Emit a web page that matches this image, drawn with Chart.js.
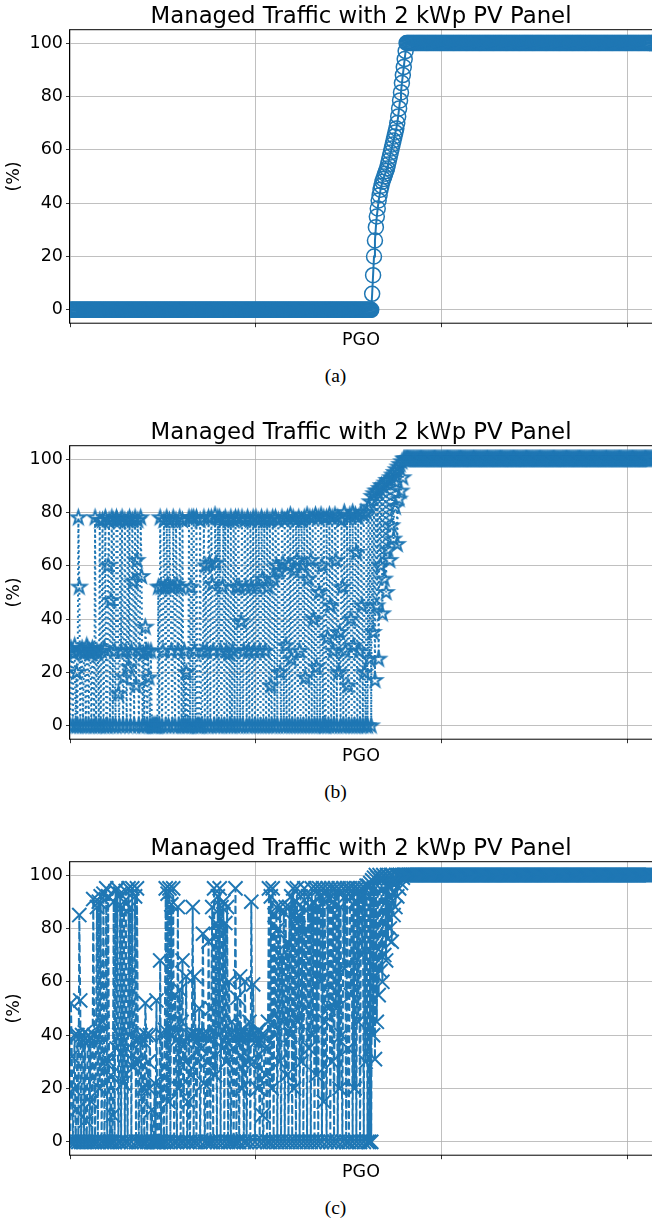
<!DOCTYPE html>
<html>
<head>
<meta charset="utf-8">
<script src="https://cdn.jsdelivr.net/npm/chart.js@4.4.1/dist/chart.umd.min.js"></script>
<style>
  html, body { margin: 0; padding: 0; background: #fff; }
  #page { position: relative; width: 652px; height: 1223px; overflow: hidden; }
  canvas { position: absolute; left: 0; }
  .cap { position: absolute; left: 0; width: 671px; text-align: center;
         font-family: 'Liberation Serif', 'Times New Roman', serif; font-size: 19.5px; line-height: 20px; }
</style>
</head>
<body>
<div id="page">
  <canvas id="chart-a" width="652" height="360" style="top:0px"></canvas>
  <div class="cap" style="top:366px">(a)</div>
  <canvas id="chart-b" width="652" height="360" style="top:416px"></canvas>
  <div class="cap" style="top:782px">(b)</div>
  <canvas id="chart-c" width="652" height="360" style="top:832px"></canvas>
  <div class="cap" style="top:1198px">(c)</div>
</div>
<script>
const titleText = 'Managed Traffic with 2 kWp PV Panel';
const xLabel = 'PGO';
const yLabel = '(%)';
const xTicks = [0, 200, 400, 600];
const yTicks = [0, 20, 40, 60, 80, 100];

// one value per sample left to right (x = sample index)
const pgoA = [
  0,0,0,0,0,0,0,0,0,0,0,0,0,0,0,0,0,0,0,0,
  0,0,0,0,0,0,0,0,0,0,0,0,0,0,0,0,0,0,0,0,
  0,0,0,0,0,0,0,0,0,0,0,0,0,0,0,0,0,0,0,0,
  0,0,0,0,0,0,0,0,0,0,0,0,0,0,0,0,0,0,0,0,
  0,0,0,0,0,0,0,0,0,0,0,0,0,0,0,0,0,0,0,0,
  0,0,0,0,0,0,0,0,0,0,0,0,0,0,0,0,0,0,0,0,
  0,0,0,0,0,0,0,0,0,0,0,0,0,0,0,0,0,0,0,0,
  0,0,0,0,0,0,0,0,0,0,0,0,0,0,0,0,0,0,0,0,
  0,0,0,0,0,0,0,0,0,0,0,0,0,0,0,0,0,0,0,0,
  0,0,0,0,0,0,0,0,0,0,0,0,0,0,0,0,0,0,0,0,
  0,0,0,0,0,0,0,0,0,0,0,0,0,0,0,0,0,0,0,0,
  0,0,0,0,0,0,0,0,0,0,0,0,0,0,0,0,0,0,0,0,
  0,0,0,0,0,0,0,0,0,0,0,0,0,0,0,0,0,0,0,0,
  0,0,0,0,0,0,0,0,0,0,0,0,0,0,0,0,0,0,0,0,
  0,0,0,0,0,0,0,0,0,0,0,0,0,0,0,0,0,0,0,0,
  0,0,0,0,0,0,0,0,0,0,0,0,0,0,0,0,0,0,0,0,
  0,0,0,0,0,6,13,20,26,31,35,38,41,43,45,46.5,48,49,50,51,
  52,53,54.5,56,57.5,59,60.5,62,63.5,65,66.5,68,70,72.5,75.5,78.5,81.5,85,88,91,
  94,97,100,100,100,100,100,100,100,100,100,100,100,100,100,100,100,100,100,100,
  100,100,100,100,100,100,100,100,100,100,100,100,100,100,100,100,100,100,100,100,
  100,100,100,100,100,100,100,100,100,100,100,100,100,100,100,100,100,100,100,100,
  100,100,100,100,100,100,100,100,100,100,100,100,100,100,100,100,100,100,100,100,
  100,100,100,100,100,100,100,100,100,100,100,100,100,100,100,100,100,100,100,100,
  100,100,100,100,100,100,100,100,100,100,100,100,100,100,100,100,100,100,100,100,
  100,100,100,100,100,100,100,100,100,100,100,100,100,100,100,100,100,100,100,100,
  100,100,100,100,100,100,100,100,100,100,100,100,100,100,100,100,100,100,100,100,
  100,100,100,100,100,100,100,100,100,100,100,100,100,100,100,100,100,100,100,100,
  100,100,100,100,100,100,100,100,100,100,100,100,100,100,100,100,100,100,100,100,
  100,100,100,100,100,100,100,100,100,100,100,100,100,100,100,100,100,100,100,100,
  100,100,100,100,100,100,100,100,100,100,100,100,100,100,100,100,100,100,100,100,
  100,100,100,100,100,100,100,100,100,100,100,100,100,100,100,100,100,100,100,100,
  100,100,100,100,100,100,100
];

const pgoB = [
  0,29,28,0,27,30,0,20,0,78,52,0,28,29,0,27,28,0,30,29,
  0,28,27,0,29,28,0,78,0,28,27,0,77,0,28,77,0,29,78,0,
  0,60,77,0,47,78,0,77,28,0,78,77,12,0,77,28,78,0,18,77,
  28,0,77,22,78,0,28,77,54,0,78,15,62,77,0,28,78,56,0,27,
  0,37,28,0,28,18,0,28,0,0,0,0,0,0,0,52,0,78,52,0,
  28,77,52,0,78,53,0,77,52,28,0,78,52,0,77,53,28,0,78,52,
  0,77,0,28,0,20,0,0,78,0,52,78,0,78,28,0,78,0,0,0,
  77,0,0,28,78,0,60,28,0,78,61,0,78,53,28,0,79,61,0,78,
  0,78,28,0,52,77,0,78,28,0,77,27,0,78,0,28,77,0,78,52,
  0,78,52,0,39,78,0,28,77,52,0,78,28,0,77,52,0,78,28,0,
  78,52,0,77,28,0,78,55,0,77,28,0,78,52,0,77,15,0,78,55,
  0,78,60,0,77,58,20,0,78,61,0,77,30,0,78,60,0,79,25,0,
  78,58,0,77,62,0,78,28,0,77,60,0,78,18,0,79,55,0,78,62,
  0,78,40,0,79,22,0,78,50,0,79,60,0,78,0,0,78,33,0,79,
  45,0,78,28,0,79,62,0,78,20,35,0,77,52,0,80,28,0,78,15,
  0,79,40,0,80,30,0,79,65,0,78,28,0,80,45,0,79,20,0,80,
  0,82,25,84,0,86,35,87,17,88,45,88,25,89,60,90,42,90,55,91,
  50,92,66,92,62,93,75,94,70,95,82,96,68,97,85,98,88,99,93,100,
  100,100,100,100,100,100,100,100,100,100,100,100,100,100,100,100,100,100,100,100,
  100,100,100,100,100,100,100,100,100,100,100,100,100,100,100,100,100,100,100,100,
  100,100,100,100,100,100,100,100,100,100,100,100,100,100,100,100,100,100,100,100,
  100,100,100,100,100,100,100,100,100,100,100,100,100,100,100,100,100,100,100,100,
  100,100,100,100,100,100,100,100,100,100,100,100,100,100,100,100,100,100,100,100,
  100,100,100,100,100,100,100,100,100,100,100,100,100,100,100,100,100,100,100,100,
  100,100,100,100,100,100,100,100,100,100,100,100,100,100,100,100,100,100,100,100,
  100,100,100,100,100,100,100,100,100,100,100,100,100,100,100,100,100,100,100,100,
  100,100,100,100,100,100,100,100,100,100,100,100,100,100,100,100,100,100,100,100,
  100,100,100,100,100,100,100,100,100,100,100,100,100,100,100,100,100,100,100,100,
  100,100,100,100,100,100,100,100,100,100,100,100,100,100,100,100,100,100,100,100,
  100,100,100,100,100,100,100,100,100,100,100,100,100,100,100,100,100,100,100,100,
  100,100,100,100,100,100,100,100,100,100,100,100,100,100,100,100,100,100,100,100,
  100,100,100,100,100,100,100
];

const pgoC = [
  0,52,32,0,20,40,0,12,40,0,85,53,0,40,38,0,41,8,0,38,
  40,0,39,15,0,91,40,0,39,88,0,90,20,92,0,45,93,0,30,95,
  0,92,30,0,25,0,10,90,0,94,35,95,0,40,93,0,88,22,90,0,
  94,35,0,95,40,88,0,95,28,30,92,0,95,38,0,30,40,0,38,20,
  0,52,40,0,30,20,40,0,12,0,0,22,0,53,0,0,0,68,0,40,
  20,0,42,95,0,93,15,95,0,89,40,95,0,55,38,0,88,20,57,0,
  45,68,0,38,30,62,0,15,40,0,25,40,88,0,62,40,0,40,30,50,
  0,35,40,78,22,0,40,30,0,75,40,0,50,88,0,95,25,82,0,92,
  40,95,0,88,35,90,0,82,30,88,0,60,40,0,45,35,0,40,95,0,
  54,40,0,62,40,20,42,0,60,40,0,40,30,45,0,90,40,59,30,0,
  40,38,20,42,0,38,40,10,0,40,35,25,0,45,95,0,92,20,95,0,
  85,40,88,0,80,30,88,0,70,45,86,0,88,25,75,0,88,40,92,0,
  95,20,90,0,95,45,85,0,92,30,88,0,95,50,80,0,92,35,88,0,
  95,40,90,0,95,25,88,0,95,60,92,0,95,15,90,45,0,95,50,93,
  0,95,30,90,0,95,50,94,0,95,20,88,40,0,95,65,92,0,95,35,
  0,95,55,92,0,95,20,90,0,95,45,94,0,95,70,93,0,95,30,96,
  0,96,0,97,0,98,40,99,31,100,45,99,55,100,64,99,60,100,70,99,
  68,100,76,99,80,100,75,100,85,99,88,100,92,100,95,100,97,100,99,100,
  100,100,100,100,100,100,100,100,100,100,100,100,100,100,100,100,100,100,100,100,
  100,100,100,100,100,100,100,100,100,100,100,100,100,100,100,100,100,100,100,100,
  100,100,100,100,100,100,100,100,100,100,100,100,100,100,100,100,100,100,100,100,
  100,100,100,100,100,100,100,100,100,100,100,100,100,100,100,100,100,100,100,100,
  100,100,100,100,100,100,100,100,100,100,100,100,100,100,100,100,100,100,100,100,
  100,100,100,100,100,100,100,100,100,100,100,100,100,100,100,100,100,100,100,100,
  100,100,100,100,100,100,100,100,100,100,100,100,100,100,100,100,100,100,100,100,
  100,100,100,100,100,100,100,100,100,100,100,100,100,100,100,100,100,100,100,100,
  100,100,100,100,100,100,100,100,100,100,100,100,100,100,100,100,100,100,100,100,
  100,100,100,100,100,100,100,100,100,100,100,100,100,100,100,100,100,100,100,100,
  100,100,100,100,100,100,100,100,100,100,100,100,100,100,100,100,100,100,100,100,
  100,100,100,100,100,100,100,100,100,100,100,100,100,100,100,100,100,100,100,100,
  100,100,100,100,100,100,100,100,100,100,100,100,100,100,100,100,100,100,100,100,
  100,100,100,100,100,100,100
];

const BLUE = '#1f77b4';
const GRID = '#b0b0b0';
Chart.defaults.font.family = "'DejaVu Sans', sans-serif";

// hollow five-pointed star like matplotlib's '*' with no face colour
function makeStar(r, lw) {
  const size = Math.ceil(2 * r + 2 * lw + 2);
  const c = document.createElement('canvas');
  c.width = c.height = size;
  const g = c.getContext('2d');
  g.beginPath();
  for (let k = 0; k < 10; k++) {
    const rad = k % 2 ? r * 0.382 : r;
    const a = -Math.PI / 2 + k * Math.PI / 5;
    g.lineTo(size / 2 + rad * Math.cos(a), size / 2 + rad * Math.sin(a));
  }
  g.closePath();
  g.lineWidth = lw;
  g.strokeStyle = BLUE;
  g.stroke();
  return c;
}

// axes frame on top of the data, like matplotlib spines
const frame = {
  id: 'frame',
  afterDatasetsDraw(chart) {
    const { ctx, chartArea: a } = chart;
    ctx.save();
    ctx.strokeStyle = '#000';
    ctx.lineWidth = 1;
    ctx.strokeRect(a.left - 0.5, a.top, a.right - a.left + 1, a.bottom - a.top);
    ctx.restore();
  }
};

function drawPanel(id, values, marker) {
  new Chart(document.getElementById(id), {
    type: 'line',
    data: {
      datasets: [{
        data: values.map((y, i) => ({ x: i, y })),
        borderColor: BLUE,
        borderWidth: 2,
        borderDash: marker.dash,
        tension: 0,
        clip: 0,
        pointStyle: marker.style,
        pointRadius: marker.radius,
        pointBorderWidth: marker.edge,
        pointBorderColor: BLUE,
        pointBackgroundColor: 'rgba(0,0,0,0)',
      }]
    },
    options: {
      responsive: false,
      animation: false,
      events: [],
      layout: { padding: 0, autoPadding: false },
      plugins: {
        legend: { display: false },
        tooltip: { enabled: false },
        title: {
          display: true,
          text: titleText,
          fullSize: false,
          color: '#000',
          font: { size: 22.8, weight: 'normal', lineHeight: 1 },
          padding: { top: 5.6, bottom: 1.3 },
        }
      },
      scales: {
        x: {
          type: 'linear',
          min: 0,
          max: 626,
          afterBuildTicks: s => { s.ticks = xTicks.map(v => ({ value: v })); },
          afterFit: s => { s.height = 36.8; },
          ticks: { display: false },
          grid: { color: GRID, lineWidth: 0.8, tickColor: '#000', tickLength: 4, tickWidth: 0.8 },
          border: { display: false },
          title: { display: true, text: xLabel, color: '#000', font: { size: 17.5 }, padding: { top: 0, bottom: 9 } },
        },
        y: {
          min: -5,
          max: 105,
          afterBuildTicks: s => { s.ticks = yTicks.map(v => ({ value: v })); },
          afterFit: s => { s.width = 70; },
          ticks: { color: '#000', font: { size: 17.5 }, padding: 3 },
          grid: { color: GRID, lineWidth: 0.8, tickColor: '#000', tickLength: 4, tickWidth: 0.8 },
          border: { display: false },
          title: { display: true, text: yLabel, color: '#000', font: { size: 17.5 }, padding: { top: 4.1, bottom: 0 } },
        }
      }
    },
    plugins: [frame]
  });
}

drawPanel('chart-a', pgoA, { style: 'circle', radius: 7.5, edge: 1.5, dash: [] });
drawPanel('chart-b', pgoB, { style: makeStar(7.3, 1.9), radius: 7, edge: 1.9, dash: [2, 3.3] });
drawPanel('chart-c', pgoC, { style: 'crossRot', radius: 10, edge: 2, dash: [7.5, 3.3] });
</script>
</body>
</html>
